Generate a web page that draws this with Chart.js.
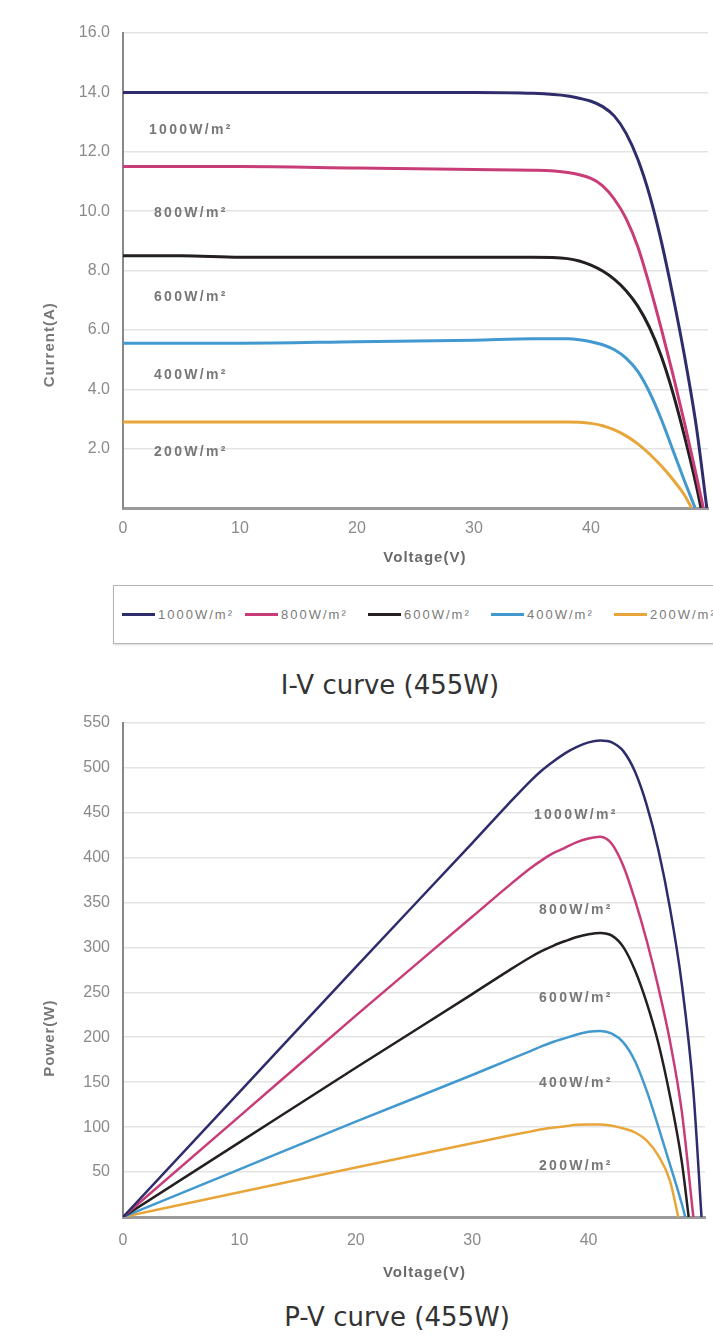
<!DOCTYPE html>
<html>
<head>
<meta charset="utf-8">
<title>I-V / P-V curves (455W)</title>
<script src="https://cdn.jsdelivr.net/npm/chart.js@4.4.1/dist/chart.umd.min.js"></script>
<style>
  html, body { margin: 0; padding: 0; background: #fff; }
  body { width: 713px; height: 1339px; position: relative; overflow: hidden; font-family: 'Liberation Sans', Arial, sans-serif; }
  #ivChart { position: absolute; left: 0; top: 0; }
  #pvChart { position: absolute; left: 0; top: 700px; }
  .legend { position: absolute; left: 113px; top: 585px; width: 640px; height: 59px; box-sizing: border-box;
            border: 1.5px solid #b3b3b3; box-shadow: 1px 1px 2px rgba(0,0,0,0.15);
            display: flex; align-items: center; padding-left: 8px; }
  .legend-item { width: 123px; display: flex; align-items: center; flex: none; }
  .legend-item .swatch { width: 33px; height: 3px; margin-right: 3px; }
  .legend-item span { font-size: 13px; color: #7a7a7a; letter-spacing: 2px; white-space: nowrap; }
  .caption { position: absolute; width: 400px; text-align: center; font-family: 'DejaVu Sans', sans-serif; font-size: 26px; color: #333; }
</style>
</head>
<body>
<canvas id="ivChart" width="719" height="575"></canvas>
<div class="legend" id="ivLegend"></div>
<div class="caption" style="left:190px; top:670px;">I-V curve (455W)</div>
<canvas id="pvChart" width="719" height="595"></canvas>
<div class="caption" style="left:197px; top:1302px;">P-V curve (455W)</div>

<script>
// series names and colours
const seriesLabels = ['1000W/m²', '800W/m²', '600W/m²', '400W/m²', '200W/m²'];
const seriesColors = ['#2f2c6c', '#c83d78', '#241f20', '#4299cf', '#e8a63a'];

// I-V curves: voltage (V) / current (A)
const ivV1000 = [0, 5, 10, 20, 30, 35, 38, 39, 40, 41, 42, 43, 44, 45, 46, 47, 48, 49, 49.9];
const ivI1000 = [14.0, 14.0, 14.0, 14.0, 14.0, 13.97, 13.88, 13.8, 13.7, 13.52, 13.2, 12.62, 11.75, 10.55, 9.0, 7.15, 5.1, 2.75, 0];
const ivV800 = [0, 5, 10, 20, 30, 35, 38, 40, 41, 42, 43, 44, 45, 46, 47, 48, 49, 49.6];
const ivI800 = [11.5, 11.5, 11.5, 11.45, 11.4, 11.38, 11.3, 11.1, 10.85, 10.4, 9.75, 8.8, 7.5, 6.05, 4.5, 2.85, 1.1, 0];
const ivV600 = [0, 5, 10, 20, 30, 35, 38, 39, 40, 41, 42, 43, 44, 45, 46, 47, 48, 49, 49.4];
const ivI600 = [8.5, 8.5, 8.45, 8.45, 8.45, 8.45, 8.4, 8.32, 8.18, 7.98, 7.7, 7.32, 6.8, 6.08, 5.12, 3.88, 2.4, 0.75, 0];
const ivV400 = [0, 5, 10, 20, 30, 35, 38, 39, 40, 41, 42, 43, 44, 45, 46, 47, 48, 48.9];
const ivI400 = [5.55, 5.55, 5.55, 5.6, 5.65, 5.7, 5.7, 5.67, 5.6, 5.5, 5.33, 5.05, 4.6, 3.9, 3.0, 1.95, 0.9, 0];
const ivV200 = [0, 10, 20, 30, 38, 39, 40, 41, 42, 43, 44, 45, 46, 47, 48, 48.6];
const ivI200 = [2.9, 2.9, 2.9, 2.9, 2.9, 2.89, 2.85, 2.77, 2.63, 2.43, 2.16, 1.82, 1.42, 0.96, 0.43, 0];

// P-V curves: voltage (V) / power (W)
const pvV1000 = [0, 10, 20, 30, 33, 35, 36, 37, 38, 39, 40, 41, 42, 43, 44, 45, 46, 47, 48, 49, 49.7];
const pvP1000 = [0, 139, 278, 416, 458, 485, 497, 507, 516, 523, 528, 530, 528, 518, 495, 458, 408, 343, 260, 140, 0];
const pvV800 = [0, 10, 20, 30, 33, 35, 36, 37, 38, 39, 40, 41, 42, 43, 44, 45, 46, 47, 48, 49];
const pvP800 = [0, 112, 224, 334, 367, 388, 397, 405, 411, 417, 421, 423, 415, 390, 352, 307, 255, 195, 118, 0];
const pvV600 = [0, 10, 20, 30, 33, 35, 36, 37, 38, 39, 40, 41, 42, 43, 44, 45, 46, 47, 48, 48.6];
const pvP600 = [0, 83, 166, 248, 273, 289, 296, 302, 307, 311.5, 314.5, 316, 313, 300, 274, 238, 193, 134, 62, 0];
const pvV400 = [0, 10, 20, 30, 33, 35, 36, 37, 38, 39, 40, 41, 42, 43, 44, 45, 46, 47, 48, 48.3];
const pvP400 = [0, 53, 106, 158, 174, 184.5, 190, 195, 199, 203, 206, 207, 204, 194, 173, 140, 100, 58, 15, 0];
const pvV200 = [0, 10, 20, 30, 33, 35, 36, 37, 38, 39, 40, 41, 42, 43, 44, 45, 46, 47, 47.7];
const pvP200 = [0, 27.6, 55, 82, 90, 95, 97.5, 99.5, 101, 102.5, 103, 102.8, 101.5, 98.5, 94, 85, 68, 40, 0];

// where the in-plot irradiance labels sit (axis units)
const ivLabelVoltage = 5.8;
const ivLabelCurrent = [12.73, 9.94, 7.1, 4.48, 1.89];
const pvLabelVoltage = 38.9;
const pvLabelPower = [447, 341, 243, 149, 57];

const ivSeries = [[ivV1000, ivI1000], [ivV800, ivI800], [ivV600, ivI600], [ivV400, ivI400], [ivV200, ivI200]];
const pvSeries = [[pvV1000, pvP1000], [pvV800, pvP800], [pvV600, pvP600], [pvV400, pvP400], [pvV200, pvP200]];

const tickColor = '#8a8a8a';

function buildDatasets(series, width) {
    return series.map(([xs, ys], i) => ({
        label: seriesLabels[i],
        data: xs.map((v, k) => ({ x: v, y: ys[k] })),
        borderColor: seriesColors[i],
        borderWidth: width,
        pointRadius: 0,
        fill: false,
        cubicInterpolationMode: 'monotone'
    }));
}

// irradiance names inside the plot and the two axis titles
function chartText(cfg) {
    return {
        id: 'chartText',
        afterDraw(chart) {
            const { ctx, chartArea, scales: { x, y } } = chart;
            ctx.save();
            ctx.fillStyle = '#777';
            ctx.textAlign = 'center';
            ctx.textBaseline = 'middle';

            ctx.font = 'bold 14px "Liberation Sans", Arial, sans-serif';
            ctx.letterSpacing = '2.3px';
            cfg.labelAt.forEach((val, i) => {
                ctx.fillText(seriesLabels[i], x.getPixelForValue(cfg.labelX), y.getPixelForValue(val));
            });

            ctx.font = 'bold 15px "Liberation Sans", Arial, sans-serif';
            ctx.letterSpacing = '1px';
            ctx.fillStyle = '#6a6a6a';
            ctx.fillText('Voltage(V)', x.getPixelForValue(cfg.xTitleAt), chartArea.bottom + cfg.xTitleGap);

            ctx.fillStyle = '#777';
            ctx.translate(50, y.getPixelForValue(cfg.yTitleAt));
            ctx.rotate(-Math.PI / 2);
            ctx.fillText(cfg.yTitle, 0, 0);
            ctx.restore();
        }
    };
}

function makeChart(canvasId, series, opts) {
    return new Chart(document.getElementById(canvasId), {
        type: 'line',
        data: { datasets: buildDatasets(series, opts.lineWidth) },
        options: {
            responsive: false,
            animation: false,
            devicePixelRatio: 1,
            layout: { padding: { top: opts.padTop, right: 5, left: 0, bottom: 0 } },
            plugins: { legend: { display: false }, tooltip: { enabled: false } },
            scales: {
                x: {
                    type: 'linear',
                    min: 0,
                    max: 50,
                    afterFit: (s) => { s.height = opts.xHeight; },
                    grid: { display: false, drawTicks: false },
                    border: { display: true, color: '#9a9a9a', width: 3 },
                    ticks: {
                        stepSize: 10,
                        padding: opts.xTickPad,
                        color: tickColor,
                        font: { size: 16 },
                        maxRotation: 0,
                        callback: (v) => (v <= 40 ? v : '')
                    }
                },
                y: {
                    min: 0,
                    max: opts.yMax,
                    afterFit: (s) => { s.width = 123; },
                    grid: { color: '#e3e3e3', lineWidth: 1.5, drawTicks: false },
                    border: { display: true, color: '#888', width: 2 },
                    ticks: {
                        stepSize: opts.yStep,
                        padding: 13,
                        color: tickColor,
                        font: { size: 16 },
                        callback: opts.yFormat
                    }
                }
            }
        },
        plugins: [opts.text]
    });
}

makeChart('ivChart', ivSeries, {
    lineWidth: 3,
    padTop: 33,
    xHeight: 67,
    xTickPad: 11,
    yMax: 16,
    yStep: 2,
    yFormat: (v) => (v === 0 ? '' : v.toFixed(1)),
    text: chartText({ labelX: ivLabelVoltage, labelAt: ivLabelCurrent, xTitleAt: 25.8, xTitleGap: 50,
                      yTitle: 'Current(A)', yTitleAt: 5.5 })
});

makeChart('pvChart', pvSeries, {
    lineWidth: 2.5,
    padTop: 22,
    xHeight: 78,
    xTickPad: 14,
    yMax: 550,
    yStep: 50,
    yFormat: (v) => (v === 0 ? '' : v),
    text: chartText({ labelX: pvLabelVoltage, labelAt: pvLabelPower, xTitleAt: 25.9, xTitleGap: 56,
                      yTitle: 'Power(W)', yTitleAt: 199 })
});

// HTML legend for the I-V chart
const legendBox = document.getElementById('ivLegend');
seriesLabels.forEach((name, i) => {
    const item = document.createElement('div');
    item.className = 'legend-item';
    item.innerHTML = '<div class="swatch" style="background:' + seriesColors[i] + '"></div><span>' + name + '</span>';
    legendBox.appendChild(item);
});
</script>
</body>
</html>
